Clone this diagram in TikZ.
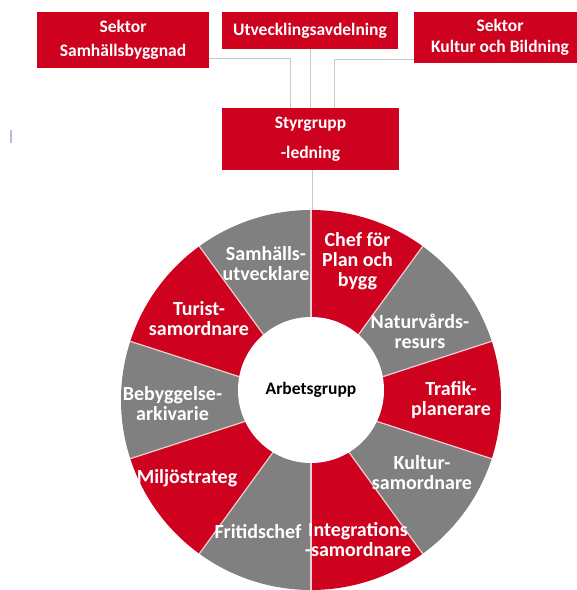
\documentclass[tikz,border=0pt]{standalone}
\usepackage{fontspec}
\setmainfont{Carlito}
\definecolor{boxred}{RGB}{206,2,30}
\definecolor{seggray}{RGB}{128,128,128}
\definecolor{connline}{RGB}{200,200,200}
\definecolor{divline}{RGB}{240,205,210}
\definecolor{markline}{RGB}{200,180,215}
\begin{document}
\begin{tikzpicture}[x=1pt,y=1pt,
  redbox/.style={fill=boxred,text=white,align=center,inner sep=0pt,
    font=\bfseries\fontsize{17.5}{24}\selectfont},
  wlabel/.style={text=white,align=center,inner sep=0pt,
    font=\bfseries\fontsize{20}{20}\selectfont},
  connector/.style={draw=connline,line width=1pt},
  divider/.style={draw=divline,line width=1.2pt}]
\fill[white] (0,0) rectangle (577,-590);
\useasboundingbox (0,0) rectangle (577,-590);

% top boxes
\node[redbox,minimum width=172pt,minimum height=56pt] (samh) at (123,-40) {Sektor\\Samhällsbyggnad};
\node[redbox,minimum width=176pt,minimum height=37pt] (utv) at (310,-30.5) {Utvecklingsavdelning};
\node[redbox,minimum width=172pt,minimum height=51pt,font=\bfseries\fontsize{17.5}{21}\selectfont] (kult) at (500,-37.5) {Sektor\\Kultur och Bildning};
\node[redbox,minimum width=177pt,minimum height=62pt,font=\bfseries\fontsize{17.5}{30}\selectfont] (styr) at (310.5,-139) {Styrgrupp\\-ledning};

% connectors
\coordinate (wtop) at (312,-210);
\draw[connector] ([yshift=-18pt]samh.east) -| ([xshift=-20.5pt]styr.north);
\draw[connector] (utv.south) -- (utv.south |- styr.north);
\draw[connector] ([yshift=-21.5pt]kult.west) -| ([xshift=23.5pt]styr.north);
\draw[connector] ([xshift=1.5pt]styr.south) -- (wtop);

% small mark at left
\draw[markline,line width=1.2pt] (11,-130) -- (11,-143);

% wheel
\coordinate (wc) at (311,-400);
\foreach \a/\col in {90/boxred,54/seggray,18/boxred,-18/seggray,-54/boxred,
                     -90/seggray,-126/boxred,-162/seggray,-198/boxred,-234/seggray}{
  \pgfmathsetmacro\b{\a-36}
  \fill[\col] (wc) -- ++(\a:190) arc[start angle=\a,end angle=\b,radius=190] -- cycle;
}
\foreach \a in {90,54,18,-18,-54,-90,-126,-162,-198,-234}{
  \draw[divider] (wc) -- ++(\a:190);
}
\node[circle,fill=white,minimum size=146pt,inner sep=0pt,text=black,
  font=\bfseries\fontsize{17.5}{20}\selectfont] (arb) at (311,-390) {Arbetsgrupp};

% wheel labels
\node[wlabel] (chef) at (357.5,-261) {Chef för\\Plan och\\bygg};
\node[wlabel] (samhu) at (266,-264) {Samhälls-\\utvecklare};
\node[wlabel] (natur) at (420,-331) {Naturvårds-\\resurs};
\node[wlabel] (turist) at (199,-319) {Turist-\\samordnare};
\node[wlabel] (trafik) at (451,-400.5) {Trafik-\\planerare};
\node[wlabel] (bebygg) at (172.5,-403.5) {Bebyggelse-\\arkivarie};
\node[wlabel] (kultur) at (422,-473) {Kultur-\\samordnare};
\node[wlabel] (miljo) at (187,-478) {Miljöstrateg};
\node[wlabel] (integr) at (358,-540) {Integrations\\-samordnare};
\node[wlabel] (frit) at (258,-532) {Fritidschef};
\end{tikzpicture}
\end{document}
